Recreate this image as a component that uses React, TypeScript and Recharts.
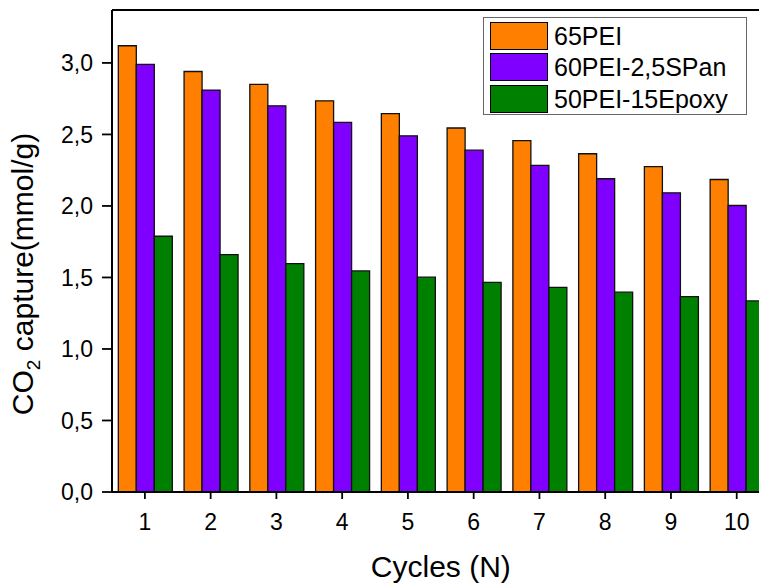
import { BarChart, Bar, XAxis, YAxis, Legend } from 'recharts';

const cycles = ['1', '2', '3', '4', '5', '6', '7', '8', '9', '10'];
const pei65 = [3.12, 2.94, 2.85, 2.735, 2.645, 2.545, 2.457, 2.365, 2.275, 2.185];
const pei60Span = [2.99, 2.81, 2.70, 2.585, 2.49, 2.39, 2.283, 2.19, 2.092, 2.003];
const pei50Epoxy = [1.788, 1.66, 1.597, 1.546, 1.502, 1.465, 1.43, 1.397, 1.366, 1.336];

const seriesNames = ['65PEI', '60PEI-2,5SPan', '50PEI-15Epoxy'];
const seriesColors = ['#FF8000', '#8000FF', '#008000'];

const yTicks = [0, 0.5, 1.0, 1.5, 2.0, 2.5, 3.0];
const yMinorTicks = [0.25, 0.75, 1.25, 1.75, 2.25, 2.75, 3.25];
const xMinorTicks = [1.5, 2.5, 3.5, 4.5, 5.5, 6.5, 7.5, 8.5, 9.5, 10.5];

const FONT = "Arial, 'Liberation Sans', sans-serif";

const data = cycles.map((c, i) => ({
  cycle: c,
  pos: i + 1,
  pei65: pei65[i],
  pei60Span: pei60Span[i],
  pei50Epoxy: pei50Epoxy[i],
}));

const axisLine = { stroke: '#000', strokeWidth: 2 };
const tickLine = { stroke: '#000', strokeWidth: 1.8 };

function YTick({ x, y, payload }: any) {
  return (
    <text x={x} y={y} dy="0.36em" textAnchor="end" fontFamily={FONT} fontSize={23} fill="#000">
      {Number(payload.value).toFixed(1).replace('.', ',')}
    </text>
  );
}

function XTick({ x, y, payload }: any) {
  return (
    <text x={x} y={y} dy="0.72em" textAnchor="middle" fontFamily={FONT} fontSize={23} fill="#000">
      {payload.value}
    </text>
  );
}

function YTitle({ viewBox }: any) {
  const x = viewBox.x - 78;
  const y = viewBox.y + viewBox.height / 2 + 23;
  return (
    <text
      x={x}
      y={y}
      transform={`rotate(-90, ${x}, ${y})`}
      textAnchor="middle"
      fontFamily={FONT}
      fontSize={30}
      fill="#000"
    >
      CO<tspan fontSize={19} dy={7}>2</tspan>
      <tspan dy={-7}> capture(mmol/g)</tspan>
    </text>
  );
}

function XTitle({ viewBox }: any) {
  return (
    <text
      x={viewBox.x + viewBox.width / 2}
      y={viewBox.y + 85}
      textAnchor="middle"
      fontFamily={FONT}
      fontSize={30}
      fill="#000"
    >
      Cycles (N)
    </text>
  );
}

// legend keeps the series order (Recharts sorts the payload by name otherwise)
function LegendBox() {
  return (
    <div
      style={{
        boxSizing: 'border-box',
        width: 264,
        height: 98,
        border: '1px solid #666',
        background: '#fff',
        padding: '2px 0 0 6px',
        fontFamily: FONT,
      }}
    >
      {seriesNames.map((name, i) => (
        <div key={name} style={{ display: 'flex', alignItems: 'center', height: 31.5 }}>
          <span
            style={{
              boxSizing: 'border-box',
              display: 'inline-block',
              width: 58,
              height: 28,
              background: seriesColors[i],
              border: '1px solid #000',
            }}
          />
          <span style={{ marginLeft: 6, fontSize: 25, color: '#000', lineHeight: '28px' }}>{name}</span>
        </div>
      ))}
    </div>
  );
}

export default function App() {
  return (
    <div
      style={{
        position: 'fixed',
        left: 0,
        top: 0,
        width: 759,
        height: 584,
        overflow: 'hidden',
        background: '#fff',
      }}
    >
      <BarChart
        width={780}
        height={584}
        data={data}
        margin={{ top: 9, right: 10.4, left: 110, bottom: 90 }}
        barCategoryGap="9.6%"
        barGap={0}
      >
        <XAxis xAxisId="top" orientation="top" dataKey="cycle" height={1} tick={false} tickLine={false} axisLine={axisLine} />
        <XAxis
          dataKey="cycle"
          height={1}
          tickSize={7}
          tickMargin={14}
          tickLine={tickLine}
          axisLine={axisLine}
          tick={<XTick />}
          interval={0}
          label={<XTitle />}
        />
        <XAxis
          xAxisId="minor"
          type="number"
          dataKey="pos"
          domain={[0.5, 10.5]}
          allowDataOverflow
          ticks={xMinorTicks}
          tick={false}
          tickSize={4}
          tickLine={tickLine}
          axisLine={false}
          height={1}
        />
        <YAxis
          domain={[0, 3.37]}
          ticks={yTicks}
          tickSize={10}
          tickMargin={9}
          tickLine={tickLine}
          axisLine={axisLine}
          tick={<YTick />}
          width={1}
          label={<YTitle />}
        />
        <YAxis
          yAxisId="minor"
          domain={[0, 3.37]}
          allowDataOverflow
          ticks={yMinorTicks}
          tick={false}
          tickSize={5}
          tickLine={tickLine}
          axisLine={false}
          width={1}
        />
        <Legend
          layout="vertical"
          align="center"
          verticalAlign="middle"
          wrapperStyle={{ left: 483, top: 17, width: 264, height: 98 }}
          content={<LegendBox />}
        />
        <Bar dataKey="pei65" name={seriesNames[0]} fill={seriesColors[0]} stroke="#111" strokeWidth={1.3} isAnimationActive={false} />
        <Bar dataKey="pei60Span" name={seriesNames[1]} fill={seriesColors[1]} stroke="#111" strokeWidth={1.3} isAnimationActive={false} />
        <Bar dataKey="pei50Epoxy" name={seriesNames[2]} fill={seriesColors[2]} stroke="#111" strokeWidth={1.3} isAnimationActive={false} />
      </BarChart>
    </div>
  );
}
